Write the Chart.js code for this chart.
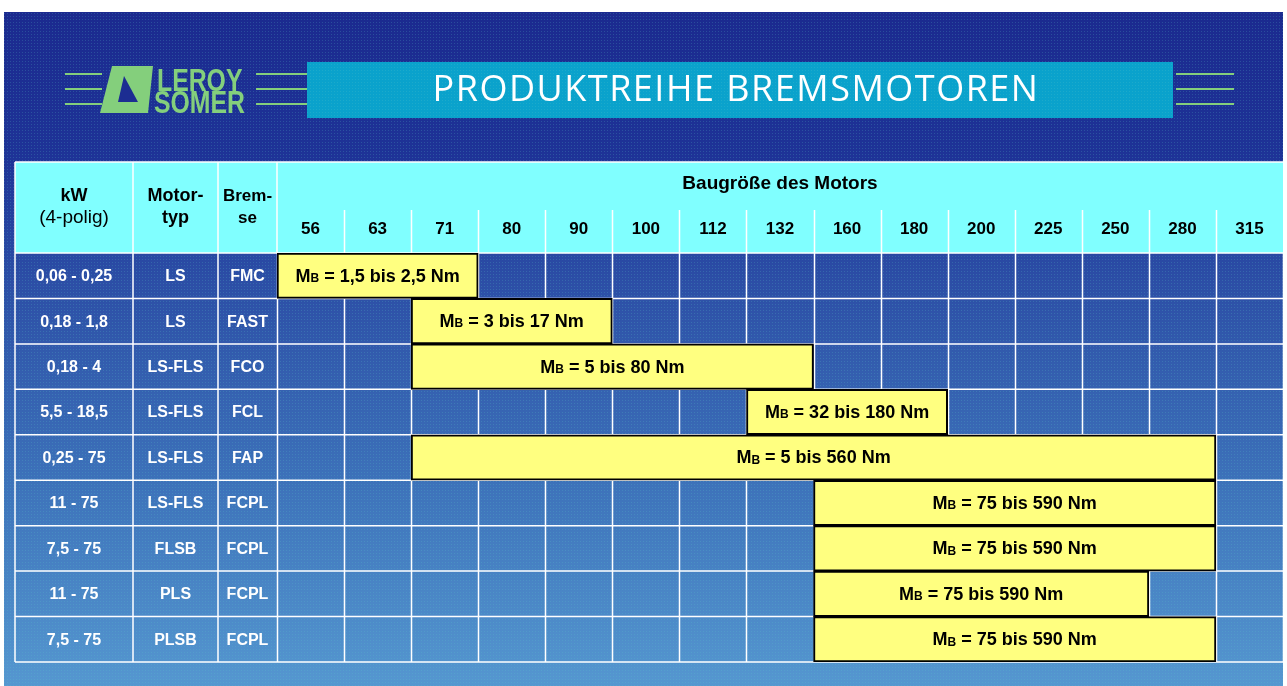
<!DOCTYPE html>
<html>
<head>
<meta charset="utf-8">
<title>Produktreihe Bremsmotoren</title>
<script src="https://cdn.jsdelivr.net/npm/chart.js@4"></script>
<style>
  html, body { margin: 0; padding: 0; background: #fff; }
  #wrap { width: 1287px; height: 686px; position: relative; }
</style>
</head>
<body>
<div id="wrap"><canvas id="chart"></canvas></div>
<script>
const title = "PRODUKTREIHE BREMSMOTOREN";
const groupTitle = "Baugröße des Motors";
const sizes = ["56","63","71","80","90","100","112","132","160","180","200","225","250","280","315"];

const kw = ["0,06 - 0,25","0,18 - 1,8","0,18 - 4","5,5 - 18,5","0,25 - 75","11 - 75","7,5 - 75","11 - 75","7,5 - 75"];
const motorTyp = ["LS","LS","LS-FLS","LS-FLS","LS-FLS","LS-FLS","FLSB","PLS","PLSB"];
const bremse = ["FMC","FAST","FCO","FCL","FAP","FCPL","FCPL","FCPL","FCPL"];

// range of motor sizes covered by each brake (inclusive)
const vonBaugroesse = ["56","71","71","132","71","160","160","160","160"];
const bisBaugroesse = ["71","90","132","180","280","280","280","250","280"];

// braking torque MB in Nm
const momentVon = ["1,5","3","5","32","5","75","75","75","75"];
const momentBis = ["2,5","17","80","180","560","590","590","590","590"];

const FONT = "'Liberation Sans', Arial, sans-serif";

const rowLabels = bremse.map((b, i) => kw[i] + " " + motorTyp[i] + " " + b);
const ranges = vonBaugroesse.map((v, i) => [sizes.indexOf(v), sizes.indexOf(bisBaugroesse[i]) + 1]);

// left columns of the table: [left, right]
const leftCols = [[15, 133], [133, 218], [218, 277]];
const headerTop = 162;

function dotPattern(ctx) {
  const c = document.createElement("canvas");
  c.width = 3; c.height = 3;
  const p = c.getContext("2d");
  p.fillStyle = "rgba(90,200,200,0.22)";
  p.fillRect(1, 1, 1, 1);
  return ctx.createPattern(c, "repeat");
}

function drawLogo(ctx) {
  ctx.save();
  ctx.strokeStyle = "#84cf7c";
  ctx.lineWidth = 2;
  [74, 89, 104].forEach(y => {
    ctx.beginPath(); ctx.moveTo(65, y); ctx.lineTo(102, y); ctx.stroke();
    ctx.beginPath(); ctx.moveTo(256, y); ctx.lineTo(307, y); ctx.stroke();
    ctx.beginPath(); ctx.moveTo(1176, y); ctx.lineTo(1234, y); ctx.stroke();
  });
  ctx.fillStyle = "#84cf7c";
  ctx.beginPath();
  ctx.moveTo(112, 66); ctx.lineTo(153, 66); ctx.lineTo(148, 113); ctx.lineTo(100, 113);
  ctx.closePath(); ctx.fill();
  ctx.fillStyle = "#1c2d92";
  ctx.beginPath();
  ctx.moveTo(124, 76); ctx.lineTo(118, 102); ctx.lineTo(138, 102);
  ctx.closePath(); ctx.fill();
  ctx.fillStyle = "#84cf7c";
  ctx.textBaseline = "alphabetic";
  ctx.textAlign = "left";
  ctx.save();
  ctx.scale(0.8, 1);
  ctx.font = "bold 31px 'Liberation Sans Narrow', " + FONT;
  ctx.fillText("LEROY", 157 / 0.8, 91);
  ctx.fillText("SOMER", 154 / 0.8, 113);
  ctx.restore();
  ctx.restore();
}

const tablePlugin = {
  id: "table",
  beforeDraw(chart) {
    const ctx = chart.ctx;
    const area = chart.chartArea;
    ctx.save();
    ctx.fillStyle = "#ffffff";
    ctx.fillRect(0, 0, chart.width, chart.height);
    const g = ctx.createLinearGradient(0, 12, 0, 686);
    g.addColorStop(0, "#1b2a8f");
    g.addColorStop(0.22, "#1e3397");
    g.addColorStop(0.4, "#2c4ea6");
    g.addColorStop(0.7, "#3d72ba");
    g.addColorStop(1, "#5597d0");
    ctx.fillStyle = g;
    ctx.fillRect(4, 12, 1279, 674);
    ctx.fillStyle = dotPattern(ctx);
    ctx.fillRect(4, 12, 1279, 674);

    // title bar
    ctx.fillStyle = "#0aa2cc";
    ctx.fillRect(307, 62, 866, 56);
    ctx.fillStyle = dotPattern(ctx);
    ctx.fillRect(307, 62, 866, 56);
    ctx.fillStyle = "#ffffff";
    ctx.font = "500 36px 'Open Sans', 'Noto Sans', sans-serif";
    ctx.letterSpacing = "1.5px";
    ctx.textAlign = "center";
    ctx.textBaseline = "middle";
    ctx.fillText(title, 736, 91);
    ctx.letterSpacing = "0px";
    drawLogo(ctx);

    // header
    const x = chart.scales.x;
    ctx.fillStyle = "#80ffff";
    ctx.fillRect(leftCols[0][0], headerTop, area.right - leftCols[0][0], area.top - headerTop);
    ctx.fillStyle = "#000";
    ctx.font = "bold 19px " + FONT;
    ctx.fillText(groupTitle, (area.left + area.right) / 2, 184);
    ctx.font = "bold 17px " + FONT;
    sizes.forEach((s, i) => ctx.fillText(s, x.getPixelForValue(i + 0.5), 229));
    const head = [["kW", "(4-polig)"], ["Motor-", "typ"], ["Brem-", "se"]];
    head.forEach((h, i) => {
      const cx = (leftCols[i][0] + leftCols[i][1]) / 2;
      const size = i == 2 ? "17px " : "18px ";
      ctx.font = "bold " + size + FONT;
      ctx.fillText(h[0], cx, 196);
      ctx.font = (i == 0 ? "19px " : "bold " + size) + FONT;
      ctx.fillText(h[1], cx, 218);
    });

    // header lines
    ctx.strokeStyle = "#ffffff";
    ctx.lineWidth = 1.5;
    ctx.beginPath();
    ctx.moveTo(leftCols[0][0], headerTop); ctx.lineTo(area.right, headerTop);
    leftCols.forEach(c => { ctx.moveTo(c[0], headerTop); ctx.lineTo(c[0], area.bottom); });
    ctx.moveTo(area.left, headerTop); ctx.lineTo(area.left, area.top);
    for (let i = 1; i < sizes.length; i++) {
      const px = Math.round(x.getPixelForValue(i)) + 0.5;
      ctx.moveTo(px, 210); ctx.lineTo(px, area.top);
    }
    ctx.stroke();
    ctx.restore();
  },
  beforeDatasetsDraw(chart) {
    const ctx = chart.ctx;
    const area = chart.chartArea;
    const x = chart.scales.x;
    const rowH = (area.bottom - area.top) / kw.length;
    ctx.save();
    ctx.strokeStyle = "#ffffff";
    ctx.lineWidth = 1.5;
    ctx.beginPath();
    for (let i = 0; i <= kw.length; i++) {
      const py = area.top + i * rowH;
      ctx.moveTo(leftCols[0][0], py); ctx.lineTo(area.right, py);
    }
    for (let i = 0; i <= sizes.length; i++) {
      const px = Math.round(x.getPixelForValue(i)) + 0.5;
      ctx.moveTo(px, area.top); ctx.lineTo(px, area.bottom);
    }
    ctx.stroke();
    ctx.fillStyle = "#ffffff";
    ctx.font = "bold 16px " + FONT;
    ctx.textAlign = "center";
    ctx.textBaseline = "middle";
    const cols = [kw, motorTyp, bremse];
    for (let r = 0; r < kw.length; r++) {
      const cy = area.top + (r + 0.5) * rowH + 1;
      cols.forEach((col, c) => ctx.fillText(col[r], (leftCols[c][0] + leftCols[c][1]) / 2, cy));
    }
    ctx.restore();
  },
  afterDatasetsDraw(chart) {
    const ctx = chart.ctx;
    const meta = chart.getDatasetMeta(0);
    ctx.save();
    ctx.fillStyle = "#000";
    ctx.textBaseline = "middle";
    ctx.textAlign = "left";
    meta.data.forEach((bar, i) => {
      const parts = [
        ["M", "bold 18px " + FONT],
        ["B", "bold 12px " + FONT],
        [" = " + momentVon[i] + " bis " + momentBis[i] + " Nm", "bold 18px " + FONT]
      ];
      let w = 0;
      parts.forEach(p => { ctx.font = p[1]; w += ctx.measureText(p[0]).width; });
      const cx = (bar.x + bar.base) / 2;
      let px = cx - w / 2;
      const cy = bar.y + 1;
      parts.forEach(p => {
        ctx.font = p[1];
        ctx.fillText(p[0], px, p[0] == "B" ? cy + 2 : cy);
        px += ctx.measureText(p[0]).width;
      });
    });
    ctx.restore();
  }
};

const ctx = document.getElementById("chart").getContext("2d");
new Chart(ctx, {
  type: "bar",
  data: {
    labels: rowLabels,
    datasets: [{
      data: ranges,
      backgroundColor: "#ffff80",
      borderColor: "#000000",
      borderWidth: 2,
      borderSkipped: false,
      barPercentage: 1,
      categoryPercentage: 1
    }]
  },
  options: {
    indexAxis: "y",
    responsive: true,
    maintainAspectRatio: false,
    animation: false,
    layout: { padding: { left: 277, right: 4, top: 253, bottom: 24 } },
    scales: {
      x: { type: "linear", min: 0, max: sizes.length, display: false },
      y: { display: false }
    },
    plugins: {
      legend: { display: false },
      tooltip: { enabled: false }
    }
  },
  plugins: [tablePlugin]
});
</script>
</body>
</html>
